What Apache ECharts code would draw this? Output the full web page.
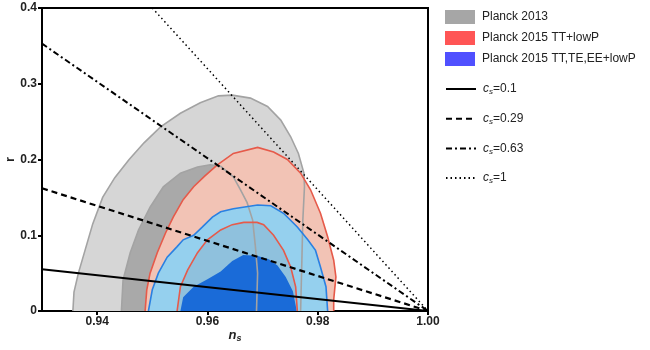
<!DOCTYPE html>
<html>
<head>
<meta charset="utf-8">
<script src="https://cdn.jsdelivr.net/npm/echarts@6/dist/echarts.min.js"></script>
<style>
html,body{margin:0;padding:0;background:#fff}
#chart{width:650px;height:350px}
</style>
</head>
<body>
<div id="chart"></div>
<script>
// tick values on the n_s axis
let nsTicks = [0.94, 0.96, 0.98, 1.00]

// contours, [n_s, r]
let gray95 = [[0.9356,0],[0.9358,0.025],[0.9366,0.05],[0.9378,0.08],[0.9392,0.115],[0.941,0.15],[0.9432,0.176],[0.9458,0.2],[0.9485,0.222],[0.9515,0.243],[0.9551,0.261],[0.9587,0.275],[0.962,0.284],[0.9645,0.285],[0.9678,0.281],[0.9709,0.27],[0.9733,0.252],[0.9751,0.23],[0.9765,0.208],[0.9775,0.182],[0.9776,0.164],[0.9773,0.12],[0.9771,0.058],[0.9769,0]]
let gray68 = [[0.9444,0],[0.9447,0.041],[0.946,0.077],[0.9475,0.107],[0.9496,0.137],[0.952,0.164],[0.9551,0.182],[0.9582,0.19],[0.9605,0.193],[0.9624,0.191],[0.9647,0.177],[0.966,0.16],[0.9672,0.143],[0.9682,0.12],[0.9687,0.085],[0.9691,0.05],[0.9689,0]]
let red95 = [[0.9487,0],[0.949,0.028],[0.9496,0.05],[0.9509,0.077],[0.9524,0.103],[0.9538,0.124],[0.9556,0.147],[0.9575,0.164],[0.9595,0.178],[0.9618,0.193],[0.9647,0.208],[0.9691,0.216],[0.972,0.21],[0.9745,0.2],[0.9769,0.182],[0.9787,0.16],[0.9805,0.129],[0.9818,0.098],[0.9829,0.067],[0.9833,0.045],[0.9829,0.015],[0.9829,0]]
let red68 = [[0.9545,0],[0.9551,0.032],[0.9564,0.054],[0.9582,0.077],[0.96,0.094],[0.9624,0.107],[0.9645,0.114],[0.9666,0.117],[0.969,0.117],[0.9702,0.114],[0.972,0.1],[0.9738,0.08],[0.9751,0.058],[0.976,0.032],[0.9763,0]]
let blue95 = [[0.9493,0],[0.95,0.028],[0.9511,0.05],[0.9527,0.071],[0.9545,0.085],[0.9556,0.094],[0.9575,0.1],[0.9591,0.111],[0.9609,0.124],[0.9624,0.131],[0.9647,0.135],[0.9691,0.14],[0.9715,0.139],[0.9738,0.129],[0.9763,0.111],[0.9782,0.094],[0.9796,0.08],[0.9805,0.058],[0.9815,0.032],[0.9818,0]]
let blue68 = [[0.9551,0],[0.9556,0.018],[0.9575,0.032],[0.96,0.042],[0.9624,0.052],[0.9645,0.066],[0.9665,0.074],[0.969,0.073],[0.9712,0.068],[0.9727,0.06],[0.9742,0.045],[0.9755,0.026],[0.9762,0]]

// sound speed lines
let csNames = ["0.1", "0.29", "0.63", "1"]
let csLines = [
    [[0.93,0.055],[1.0,0]],
    [[0.93,0.162],[1.0,0]],
    [[0.93,0.353],[1.0,0]],
    [[0.95,0.4],[1.0,0]]
]
let csDash = ["solid", [6,4], [6,3,2,3], [1.5,3]]
let csWidth = [2, 2.2, 2, 1.5]

let legendNames = ["Planck 2013", "Planck 2015 TT+lowP", "Planck 2015 TT,TE,EE+lowP"]
let legendColors = ["#a6a6a6", "#ff5555", "#5050ff"]

let chart = echarts.init(document.getElementById("chart"))
let font = "Liberation Sans, Arial, sans-serif"

/** polygon fill */
function fillSeries(name, pts, color){
    return {
        type:"custom", name:name, data:pts, silent:true, clip:true,
        itemStyle:{color:color},
        renderItem:(params, api)=>{
            if(params.dataIndex !== 0) return
            return {type:"polygon", shape:{points:pts.map(p=>api.coord(p))}, style:{fill:color}}
        }
    }
}
/** contour outline */
function edgeSeries(pts, color){
    return {
        type:"custom", data:pts, silent:true, clip:true,
        renderItem:(params, api)=>{
            if(params.dataIndex !== 0) return
            return {type:"polyline", shape:{points:pts.map(p=>api.coord(p))}, style:{stroke:color, lineWidth:1.6, fill:null}}
        }
    }
}

let series = [
    fillSeries(legendNames[0], gray95, "#d6d6d6"),
    fillSeries(legendNames[0], gray68, "#a9a9a9"),
    fillSeries(legendNames[1], red95, "#f2c3b5"),
    fillSeries(legendNames[2], blue95, "#95d0ee"),
    fillSeries(legendNames[1], red68, "#8fc1dd"),
    fillSeries(legendNames[2], blue68, "#1a6bd8"),
    edgeSeries(gray95, "#a3a3a3"),
    edgeSeries(gray68, "#a3a3a3"),
    edgeSeries(red95, "#e65a4a"),
    edgeSeries(red68, "#e65a4a"),
    edgeSeries(blue95, "#2a80e2")
]
csLines.forEach((d,i)=>{
    series.push({
        type:"line", name:"cs=" + csNames[i], data:d, symbol:"none", silent:true,
        lineStyle:{color:"#000", width:csWidth[i], type:csDash[i]},
        itemStyle:{color:"#000"}
    })
})

let csRich = {
    c:{fontStyle:"italic", fontSize:12, fontFamily:font, color:"#222"},
    s:{fontStyle:"italic", fontSize:8, fontFamily:font, color:"#222", padding:[6,0,0,0]},
    t:{fontSize:12, fontFamily:font, color:"#222"}
}

chart.setOption({
    animation:false,
    grid:{left:42, right:222, top:8, bottom:39, show:true, borderColor:"#000", borderWidth:2, containLabel:false, outerBoundsMode:"none"},
    legend:[{
        orient:"vertical", left:440, top:5, itemWidth:30, itemHeight:14, itemGap:7,
        selectedMode:false,
        data:legendNames.map((n,i)=>({name:n, icon:"rect", itemStyle:{color:legendColors[i], borderWidth:0}})),
        textStyle:{fontFamily:font, fontSize:12, color:"#222", padding:[0,0,0,2]}
    },{
        orient:"vertical", left:440, top:78, itemWidth:30, itemHeight:14, itemGap:16.7,
        selectedMode:false,
        itemStyle:{opacity:0},
        data:csNames.map(n=>"cs=" + n),
        formatter:n=>"{c|c}{s|s}{t|" + n.slice(2) + "}",
        textStyle:{rich:csRich, padding:[0,0,0,2]}
    }],
    xAxis:{
        type:"value", min:0.93, max:1.0,
        name:"{n|n}{s|s}", nameLocation:"middle", nameGap:16, nameMoveOverlap:false,
        nameTextStyle:{rich:{
            n:{fontStyle:"italic", fontWeight:"bold", fontSize:13, fontFamily:font, color:"#222"},
            s:{fontStyle:"italic", fontWeight:"bold", fontSize:9, fontFamily:font, color:"#222", padding:[7,0,0,0]}
        }},
        axisLine:{show:true, lineStyle:{color:"#000", width:2}},
        axisTick:{show:true, length:4, customValues:nsTicks, lineStyle:{color:"#000", width:2}},
        axisLabel:{customValues:nsTicks, formatter:v=>v.toFixed(2), fontWeight:"bold", fontSize:12, fontFamily:font, color:"#222", margin:5},
        splitLine:{show:false}
    },
    yAxis:{
        type:"value", min:0, max:0.4, interval:0.1,
        name:"r", nameLocation:"middle", nameGap:25, nameRotate:90, nameMoveOverlap:false,
        nameTextStyle:{fontWeight:"bold", fontSize:13, fontFamily:font, color:"#222"},
        axisLine:{show:true, lineStyle:{color:"#000", width:2}},
        axisTick:{show:true, length:4, lineStyle:{color:"#000", width:2}},
        axisLabel:{formatter:v=>v===0 ? "0" : v.toFixed(1), fontWeight:"bold", fontSize:12, fontFamily:font, color:"#222", margin:5},
        splitLine:{show:false}
    },
    series:series
})
</script>
</body>
</html>
